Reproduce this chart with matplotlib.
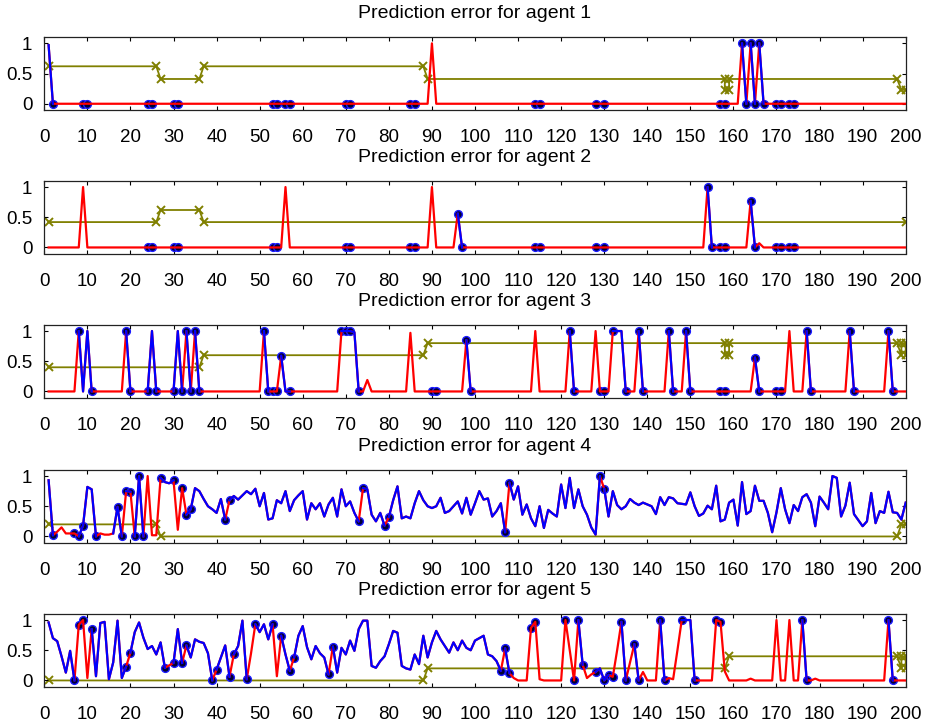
import numpy as np
import matplotlib
matplotlib.use('Agg')
import matplotlib.pyplot as plt

plt.rcParams['font.family'] = ['Liberation Sans', 'DejaVu Sans']

T = np.arange(1, 201)
titles = ["Prediction error for agent %d" % i for i in range(1, 6)]
x_ticks = list(range(0, 201, 10))
y_ticks = [0, 0.5, 1]
y_tick_labels = ["0", "0.5", "1"]

# ---------- agent 1 (zero baseline + peaks) ----------
a1_peak_t = [1, 90, 162, 164, 166]
a1_peak_v = [0.97, 1.0, 1.0, 1.0, 1.0]
a1_dots = [2, 9, 10, 24, 25, 30, 31, 53, 54, 56, 57, 70, 71, 85, 86, 114, 115,
           128, 130, 157, 158, 162, 163, 164, 165, 166, 167, 170, 171, 173, 174]
a1_blue = [(1, 2), (162, 163), (164, 165), (166, 167)]
a1_olive_t = [1, 26, 27, 36, 37, 88, 89, 158, 158, 159, 159, 198, 199, 200]
a1_olive_v = [0.62, 0.62, 0.41, 0.41, 0.62, 0.62, 0.41, 0.41, 0.23, 0.23, 0.41, 0.41, 0.23, 0.23]

# ---------- agent 2 ----------
a2_peak_t = [9, 56, 90, 96, 154, 164, 166]
a2_peak_v = [1.0, 1.0, 1.0, 0.56, 1.0, 0.77, 0.07]
a2_dots = [24, 25, 30, 31, 53, 54, 70, 71, 85, 86, 96, 97, 114, 115, 128, 130,
           154, 155, 157, 158, 164, 165, 170, 171, 173, 174]
a2_blue = [(96, 97), (154, 155), (164, 165)]
a2_olive_t = [1, 26, 27, 36, 37, 200]
a2_olive_v = [0.42, 0.42, 0.62, 0.62, 0.42, 0.42]

# ---------- agent 3 ----------
a3_peak_t = [8, 10, 19, 25, 31, 33, 35, 51, 55, 69, 70, 71, 72, 75, 85, 98, 114, 122,
             128, 132, 133, 134, 138, 145, 149, 165, 173, 177, 187, 196]
a3_peak_v = [1, 1, 1, 1, 1, 1, 1, 1, 0.59, 1, 1, 1, 0.98, 0.19, 0.97, 0.85, 1, 1,
             1, 1, 1, 1, 1, 1, 1, 0.56, 1, 1, 1, 1]
a3_dots = [8, 11, 19, 20, 24, 26, 30, 32, 33, 34, 35, 36, 51, 52, 53, 54, 55, 57,
           69, 70, 71, 73, 90, 91, 98, 99, 122, 123, 129, 130, 132, 135, 138, 139,
           145, 146, 149, 150, 157, 158, 165, 166, 170, 171, 177, 178, 187, 188, 196, 197]
a3_blue = [(8, 11), (19, 20), (24, 26), (30, 32), (33, 34), (35, 36), (51, 52), (55, 57),
           (69, 73), (98, 99), (122, 123), (132, 135), (138, 139), (145, 146), (149, 150),
           (165, 166), (177, 178), (187, 188), (196, 197)]
a3_olive_t = [1, 36, 37, 88, 89, 158, 158, 159, 159, 198, 199, 199, 200, 200]
a3_olive_v = [0.4, 0.4, 0.6, 0.6, 0.8, 0.8, 0.6, 0.6, 0.8, 0.8, 0.6, 0.8, 0.8, 0.6]

# ---------- agent 4 (full series) ----------
a4_values = [
    0.93, 0.02, 0.08, 0.15, 0.05, 0.05, 0.05, 0.00, 0.18, 0.82,
    0.78, 0.00, 0.05, 0.03, 0.03, 0.05, 0.49, 0.00, 0.75, 0.74,
    0.00, 1.00, 0.00, 1.00, 0.02, 0.02, 0.97, 0.90, 0.88, 0.93,
    0.11, 0.80, 0.36, 0.45, 0.80, 0.75, 0.62, 0.50, 0.45, 0.39,
    0.62, 0.28, 0.60, 0.67, 0.61, 0.68, 0.75, 0.70, 0.79, 0.50,
    0.72, 0.28, 0.30, 0.60, 0.55, 0.75, 0.42, 0.60, 0.68, 0.75,
    0.28, 0.55, 0.45, 0.55, 0.33, 0.53, 0.64, 0.33, 0.78, 0.50,
    0.58, 0.39, 0.25, 0.80, 0.78, 0.36, 0.25, 0.39, 0.18, 0.32,
    0.60, 0.83, 0.30, 0.33, 0.30, 0.55, 0.75, 0.60, 0.50, 0.47,
    0.50, 0.64, 0.39, 0.42, 0.50, 0.58, 0.38, 0.64, 0.36, 0.55,
    0.75, 0.61, 0.63, 0.33, 0.42, 0.55, 0.07, 0.89, 0.61, 0.83,
    0.36, 0.53, 0.30, 0.17, 0.50, 0.14, 0.44, 0.38, 0.33, 0.86,
    0.47, 0.97, 0.47, 0.78, 0.50, 0.36, 0.15, 0.03, 1.00, 0.79,
    0.33, 0.75, 0.52, 0.45, 0.50, 0.62, 0.56, 0.52, 0.56, 0.53,
    0.50, 0.37, 0.65, 0.52, 0.65, 0.63, 0.55, 0.54, 0.53, 0.73,
    0.50, 0.34, 0.38, 0.51, 0.45, 0.84, 0.25, 0.28, 0.56, 0.61,
    0.18, 0.90, 0.37, 0.42, 0.84, 0.59, 0.59, 0.39, 0.07, 0.40,
    0.80, 0.45, 0.22, 0.52, 0.42, 0.65, 0.70, 0.56, 0.17, 0.66,
    0.56, 0.45, 1.00, 0.97, 0.33, 0.51, 0.89, 0.37, 0.27, 0.17,
    0.25, 0.72, 0.22, 0.42, 0.39, 0.74, 0.40, 0.39, 0.28, 0.56]
a4_dots = [2, 7, 8, 9, 12, 17, 18, 19, 20, 21, 22, 23, 27, 30, 32, 33, 34, 42, 43,
           73, 74, 79, 80, 107, 108, 129, 130]
a4_blue = [(1, 2), (8, 12), (16, 18), (19, 20), (21, 23), (27, 30), (33, 42), (43, 73),
           (74, 79), (80, 107), (108, 129), (130, 200)]
a4_olive_t = [1, 26, 27, 198, 199, 200]
a4_olive_v = [0.2, 0.2, 0.0, 0.0, 0.2, 0.2]

# ---------- agent 5 (full series) ----------
a5_values = [
    0.96, 0.70, 0.65, 0.40, 0.13, 0.49, 0.00, 0.92, 1.00, 0.04,
    0.85, 0.07, 0.95, 0.97, 0.02, 0.30, 0.99, 0.04, 0.23, 0.46,
    0.80, 0.96, 0.71, 0.52, 0.57, 0.43, 0.63, 0.21, 0.25, 0.29,
    0.85, 0.29, 0.58, 0.38, 0.68, 0.64, 0.62, 0.45, 0.00, 0.18,
    0.38, 0.58, 0.06, 0.43, 0.57, 0.99, 0.02, 0.45, 0.93, 0.80,
    0.93, 0.68, 0.93, 0.07, 0.74, 0.43, 0.16, 0.38, 0.74, 0.90,
    0.55, 0.35, 0.57, 0.45, 0.38, 0.10, 0.56, 0.13, 0.54, 0.43,
    0.66, 0.49, 0.85, 0.99, 0.99, 0.24, 0.21, 0.32, 0.40, 0.60,
    0.82, 0.79, 0.24, 0.20, 0.18, 0.43, 0.27, 0.74, 0.38, 0.63,
    0.82, 0.68, 0.57, 0.46, 0.63, 0.50, 0.66, 0.54, 0.50, 0.66,
    0.70, 0.74, 0.43, 0.40, 0.32, 0.16, 0.53, 0.12, 0.04, 0.00,
    0.00, 0.00, 0.87, 0.97, 0.02, 0.00, 0.00, 0.00, 0.00, 0.00,
    1.00, 0.50, 0.00, 1.00, 0.26, 0.04, 0.10, 0.14, 0.20, 0.00,
    0.09, 0.06, 0.50, 0.97, 0.00, 0.30, 0.60, 0.00, 0.14, 0.00,
    0.00, 0.00, 1.00, 0.00, 0.04, 0.02, 0.50, 1.00, 1.00, 1.00,
    0.00, 0.00, 0.00, 0.00, 0.00, 1.00, 0.97, 0.15, 0.00, 0.00,
    0.00, 0.00, 0.00, 0.03, 0.00, 0.00, 0.00, 0.00, 0.00, 1.00,
    0.00, 0.00, 1.00, 0.00, 0.00, 1.00, 0.00, 0.00, 0.03, 0.00,
    0.00, 0.00, 0.00, 0.00, 0.00, 0.00, 0.00, 0.00, 0.00, 0.00,
    0.00, 0.00, 0.00, 0.00, 0.00, 1.00, 0.00, 0.00, 0.00, 0.00]
a5_dots = [7, 8, 9, 11, 19, 20, 28, 30, 32, 33, 39, 40, 43, 44, 47, 49, 53, 55, 57, 58,
           66, 67, 106, 107, 108, 113, 114, 121, 123, 124, 125, 128, 130, 131, 132, 134,
           135, 137, 138, 143, 144, 148, 151, 156, 157, 176, 177, 196, 197]
a5_blue = [(1, 7), (11, 19), (20, 28), (30, 32), (33, 39), (40, 43), (44, 47), (49, 53),
           (55, 57), (58, 66), (67, 106), (107, 108), (124, 125), (128, 131), (134, 135),
           (137, 138), (143, 144), (148, 151), (176, 177), (196, 197)]
a5_olive_t = [1, 88, 89, 158, 159, 198, 199, 199, 200, 200]
a5_olive_v = [0.0, 0.0, 0.2, 0.2, 0.4, 0.4, 0.2, 0.4, 0.4, 0.2]


def sparse_series(pt, pv):
    y = np.zeros(len(T))
    for t, v in zip(pt, pv):
        y[t - 1] = v
    return y


series = [sparse_series(a1_peak_t, a1_peak_v),
          sparse_series(a2_peak_t, a2_peak_v),
          sparse_series(a3_peak_t, a3_peak_v),
          np.array(a4_values),
          np.array(a5_values)]
dots = [a1_dots, a2_dots, a3_dots, a4_dots, a5_dots]
blues = [a1_blue, a2_blue, a3_blue, a4_blue, a5_blue]
olives = [(a1_olive_t, a1_olive_v), (a2_olive_t, a2_olive_v), (a3_olive_t, a3_olive_v),
          (a4_olive_t, a4_olive_v), (a5_olive_t, a5_olive_v)]

W, H = 928, 724
fig = plt.figure(figsize=(W / 100, H / 100), dpi=100)
tops_px = [37.3, 181, 325, 470, 614]
ax_h_px = 72.5
left_px, right_px = 44.3, 905.7

RED = '#ff0000'
BLUE = '#0000ff'
OLIVE = '#808000'

for i in range(5):
    b = 1 - (tops_px[i] + ax_h_px) / H
    ax = fig.add_axes([left_px / W, b, (right_px - left_px) / W, ax_h_px / H])
    y = series[i]
    ot, ov = olives[i]
    ax.plot(ot, ov, color=OLIVE, lw=1.3, marker='x', ms=6, mew=1.4, zorder=1.5)
    d = np.array(dots[i])
    ax.plot(d, y[d - 1], linestyle='none', marker='o', ms=5.6,
            mfc='#000033', mec='#1a1aff', mew=1.0, zorder=2)
    ax.plot(T, y, color=RED, lw=1.6, zorder=3)
    for (s, e) in blues[i]:
        ax.plot(T[s - 1:e], y[s - 1:e], color=BLUE, lw=1.6, zorder=4)
    ax.set_xlim(0, 200)
    ax.set_ylim(-0.1, 1.1)
    ax.set_xticks(x_ticks)
    ax.set_xticklabels([str(v) for v in x_ticks])
    ax.set_yticks(y_ticks)
    ax.set_yticklabels(y_tick_labels)
    ax.tick_params(direction='in', top=True, right=True, length=3, width=0.8,
                   labelsize=13.5, colors='black')
    ax.tick_params(axis='x', pad=14)
    ax.tick_params(axis='y', pad=8.5)
    for sp in ax.spines.values():
        sp.set_color('#222222')
        sp.set_linewidth(0.9)
    ax.set_title(titles[i], fontsize=14, pad=14)

fig.savefig('out.png', dpi=100)
